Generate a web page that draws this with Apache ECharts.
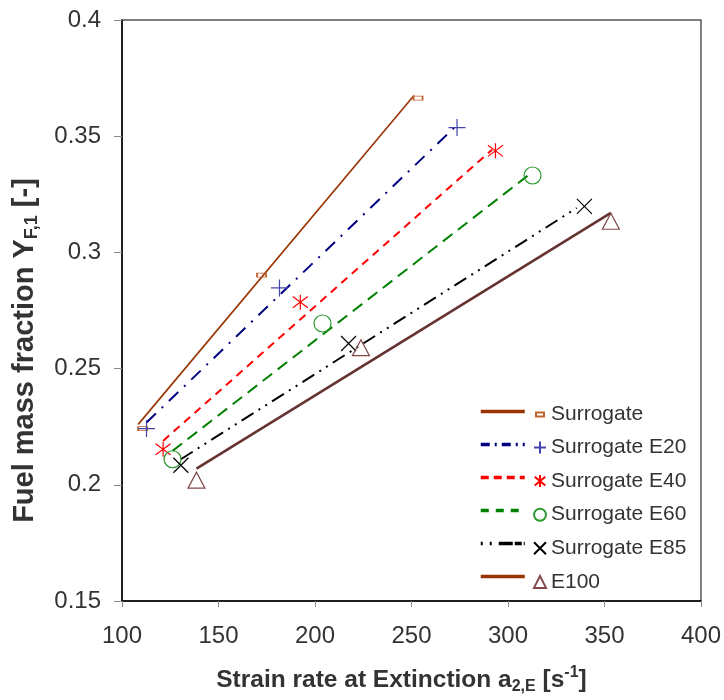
<!DOCTYPE html>
<html>
<head>
<meta charset="utf-8">
<script src="https://cdn.jsdelivr.net/npm/echarts@6/dist/echarts.min.js"></script>
<style>html,body{margin:0;padding:0;background:#fff}#chart{width:724px;height:700px}</style>
</head>
<body>
<div id="chart"></div>
<script>
// ---- data ----
const seriesNames = ['Surrogate', 'Surrogate E20', 'Surrogate E40', 'Surrogate E60', 'Surrogate E85', 'E100'];
const xTicks = [100, 150, 200, 250, 300, 350, 400];
const yTicks = [0.15, 0.2, 0.25, 0.3, 0.35, 0.4];

// measured points (strain rate, fuel mass fraction)
const surrogateX = [110.7, 172.3, 253.4];
const surrogateY = [0.2242, 0.2902, 0.3664];
const e20X = [112.7, 181.6, 273.6];
const e20Y = [0.2242, 0.2847, 0.3537];
const e40X = [121.3, 192.4, 293.5];
const e40Y = [0.2153, 0.2786, 0.3437];
const e60X = [126.2, 203.9, 312.7];
const e60Y = [0.2110, 0.2694, 0.3331];
const e85X = [130.5, 217.4, 339.6];
const e85Y = [0.2084, 0.2608, 0.3198];
const e100X = [138.6, 223.8, 353.3];
const e100Y = [0.2020, 0.2590, 0.3134];

// linear trend line end points
const surrogateFitX = [108.4, 251.3];
const surrogateFitY = [0.2260, 0.3675];
const e20FitX = [112.7, 272.8];
const e20FitY = [0.2268, 0.3542];
const e40FitX = [121.3, 291.7];
const e40FitY = [0.2189, 0.3442];
const e60FitX = [126.2, 312.4];
const e60FitY = [0.2146, 0.3344];
const e85FitX = [130.5, 335.6];
const e85FitY = [0.2110, 0.3191];
const e100FitX = [138.6, 353.3];
const e100FitY = [0.2070, 0.3170];

// ---- build ----
const zip = (xs, ys) => xs.map((x, i) => [x, ys[i]]);
const pts = [zip(surrogateX, surrogateY), zip(e20X, e20Y), zip(e40X, e40Y), zip(e60X, e60Y), zip(e85X, e85Y), zip(e100X, e100Y)];
const fits = [zip(surrogateFitX, surrogateFitY), zip(e20FitX, e20FitY), zip(e40FitX, e40FitY), zip(e60FitX, e60FitY), zip(e85FitX, e85FitY), zip(e100FitX, e100FitY)];

const lineColors = ['#993300', '#000080', '#ff0000', '#008000', '#000000', '#663333'];
const legendLineColors = ['#993300', '#000080', '#ff0000', '#008000', '#000000', '#993300'];
const lineWidths = [1.6, 2, 2, 2, 2, 2.6];
const lineTypes = ['solid', [13, 8, 2, 8], [8, 6], [12, 7], [14, 6, 2, 6, 2, 6], 'solid'];
const legendLineTypes = ['solid', [9, 5, 2, 5], [8, 5], [8, 7], [2, 7, 2, 7, 14], 'solid'];
const markerColors = ['#c0642d', '#4444aa', '#ff0000', '#2e9a2e', '#000000', '#804848'];
const markerSymbols = ['rect', 'path://M0,5L10,5M5,0L5,10', 'path://M5,0L5,10M0.6,1.3L9.4,8.7M9.4,1.3L0.6,8.7', 'circle', 'path://M0,0L10,10M10,0L0,10', 'triangle'];
const markerSizes = [[9, 4], 17, 15, 17, 15, [17, 16]];
const fitNames = seriesNames.map(n => n + ' trend');

const series = [];
for (let i = 0; i < seriesNames.length; i++) {
  series.push({
    name: fitNames[i], type: 'line', data: fits[i], symbol: 'none', z: 2,
    lineStyle: { color: lineColors[i], width: lineWidths[i], type: lineTypes[i] },
    itemStyle: { color: lineColors[i] }
  });
}
for (let i = 0; i < seriesNames.length; i++) {
  series.push({
    name: seriesNames[i], type: 'scatter', data: pts[i], z: 3,
    symbol: markerSymbols[i], symbolSize: markerSizes[i],
    itemStyle: { color: 'rgba(0,0,0,0)', borderColor: markerColors[i], borderWidth: 1.2, opacity: 1 }
  });
}

const legendFont = 'Liberation Sans, Arial, sans-serif';
const legends = [
  {
    orient: 'vertical', left: 474, top: 401, itemWidth: 44, itemHeight: 14, itemGap: 21.8,
    data: fitNames.map((n, i) => ({
      name: n,
      lineStyle: { color: legendLineColors[i], width: 3.5, type: legendLineTypes[i] },
      itemStyle: { color: 'rgba(0,0,0,0)', borderColor: 'rgba(0,0,0,0)', borderWidth: 0 }
    })),
    formatter: () => '', textStyle: { fontSize: 1, lineHeight: 14 }, selectedMode: false
  },
  {
    orient: 'vertical', left: 530, top: 399, itemWidth: 8, itemHeight: 4, itemGap: 13,
    data: [seriesNames[0]],
    textStyle: { fontSize: 21, color: '#333', lineHeight: 14, fontFamily: legendFont, padding: [0, 0, 0, 2] },
    selectedMode: false
  },
  {
    orient: 'vertical', left: 528, top: 432, itemWidth: 12, itemHeight: 12, itemGap: 12.6,
    data: seriesNames.slice(1),
    textStyle: { fontSize: 21, color: '#333', lineHeight: 14, fontFamily: legendFont },
    selectedMode: false
  }
];

const titleFont = 'Liberation Sans, Arial, sans-serif';
const option = {
  backgroundColor: '#fff',
  animation: false,
  grid: { left: 122, right: 21, top: 20, bottom: 98, show: true, borderColor: '#555', borderWidth: 1.5 },
  legend: legends,
  xAxis: {
    type: 'value', min: xTicks[0], max: xTicks[xTicks.length - 1], interval: 50,
    name: 'Strain rate at Extinction a{sub|2,E} [s{sup|-1}]',
    nameLocation: 'middle', nameGap: 64,
    nameTextStyle: {
      fontSize: 24.5, fontWeight: 'bold', color: '#333', fontFamily: titleFont, lineHeight: 30,
      padding: [0, 20, 0, 0],
      rich: {
        sub: { fontSize: 16, fontWeight: 'bold', color: '#333', fontFamily: titleFont, lineHeight: 14, verticalAlign: 'bottom' },
        sup: { fontSize: 16, fontWeight: 'bold', color: '#333', fontFamily: titleFont, lineHeight: 14, verticalAlign: 'top' }
      }
    },
    axisLine: { lineStyle: { color: '#000', width: 1.5 } },
    axisTick: { show: true, length: 6, lineStyle: { color: '#888' } },
    axisLabel: { fontSize: 24, color: '#333', margin: 23, fontFamily: legendFont },
    splitLine: { show: false }
  },
  yAxis: {
    type: 'value', min: yTicks[0], max: yTicks[yTicks.length - 1], interval: 0.05,
    name: 'Fuel mass fraction Y{sub|F,1} [-]',
    nameLocation: 'middle', nameGap: 81,
    nameTextStyle: {
      fontSize: 29, fontWeight: 'bold', color: '#333', fontFamily: titleFont, lineHeight: 32,
      padding: [0, 80, 0, 0],
      rich: {
        sub: { fontSize: 18, fontWeight: 'bold', color: '#333', fontFamily: titleFont, lineHeight: 14, verticalAlign: 'bottom' }
      }
    },
    axisLine: { show: true, lineStyle: { color: '#000', width: 1.5 } },
    axisTick: { show: true, length: 8, lineStyle: { color: '#888' } },
    axisLabel: { fontSize: 24, color: '#333', margin: 21, fontFamily: legendFont,
      formatter: v => String(+v.toFixed(2)) },
    splitLine: { show: false }
  },
  series: series
};

const chart = echarts.init(document.getElementById('chart'), null, { renderer: 'canvas' });
chart.setOption(option);
</script>
</body>
</html>
